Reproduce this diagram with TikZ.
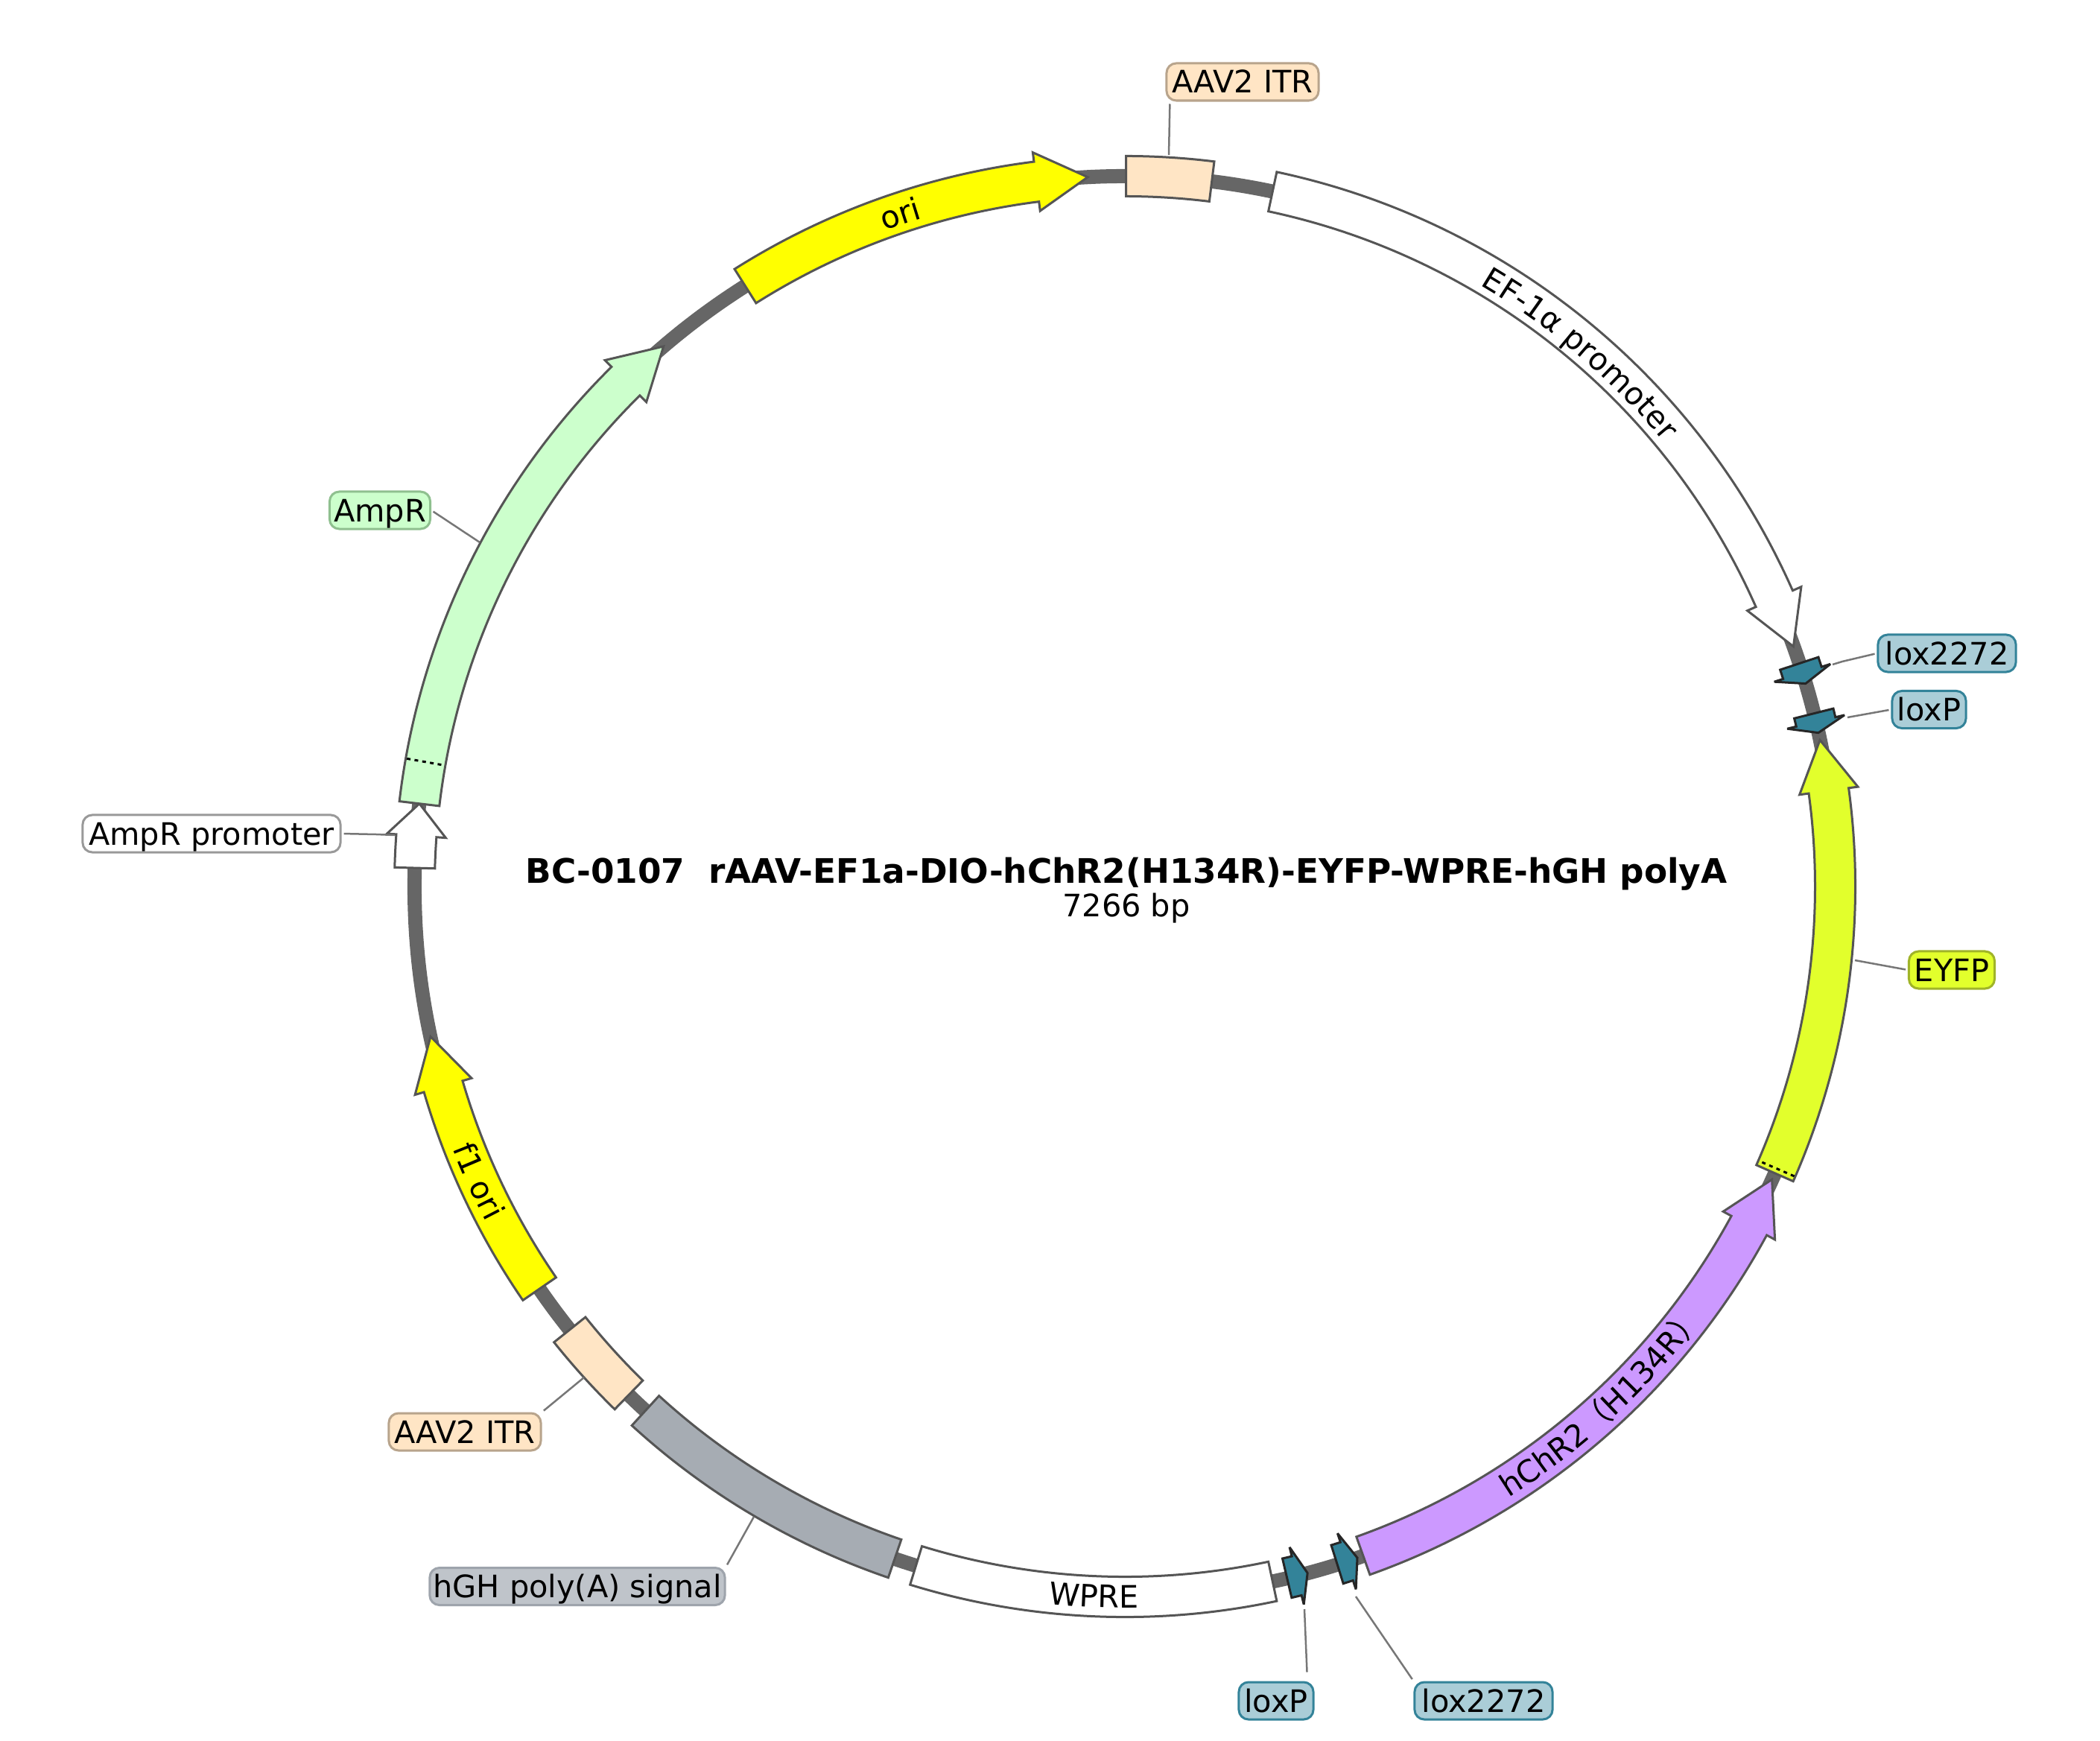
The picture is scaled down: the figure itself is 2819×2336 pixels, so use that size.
\documentclass[tikz,border=0pt]{standalone}
\usepackage{fontspec}
\setmainfont{DejaVu Sans}
\newfontfamily\cjkf{Noto Sans CJK SC}
\usetikzlibrary{decorations.text}
\definecolor{trackc}{HTML}{666666}
\definecolor{edgec}{HTML}{555555}
\definecolor{loxc}{HTML}{338399}
\definecolor{loxl}{HTML}{AACDD7}
\definecolor{itrc}{HTML}{FFE5C5}
\definecolor{itre}{HTML}{B8A48C}
\definecolor{greyc}{HTML}{A6ACB3}
\definecolor{greyl}{HTML}{BFC4CA}
\definecolor{greye}{HTML}{9EA4AC}
\definecolor{ampc}{HTML}{CCFFCC}
\definecolor{ampe}{HTML}{8FC08F}
\definecolor{eyfpc}{HTML}{E2FF2C}
\definecolor{eyfpe}{HTML}{A0B428}
\definecolor{chrc}{HTML}{CC99FF}
\definecolor{orif}{HTML}{FFFF00}
\definecolor{leadc}{HTML}{777777}
\newcommand{\lf}{\fontsize{11.8}{14}\selectfont}
\newcommand{\Ro}{9.80}
\newcommand{\Ri}{9.26}
\newcommand{\Rm}{9.53}
\newcommand{\Rho}{9.925}
\newcommand{\Rhi}{9.135}
\newcommand{\ringbox}[3]{%
  \pgfmathsetmacro\angA{90-#1}\pgfmathsetmacro\angB{90-#2}%
  \draw[#3] (\angA:\Ro cm) arc[start angle=\angA,end angle=\angB,radius=\Ro cm]
    -- (\angB:\Ri cm) arc[start angle=\angB,end angle=\angA,radius=\Ri cm] -- cycle;}
\newcommand{\ringarrow}[4][4.15]{%
  \pgfmathsetmacro\angA{90-#2}\pgfmathsetmacro\angT{90-#3}%
  \pgfmathsetmacro\angB{\angT+sign(#3-#2)*#1}%
  \draw[#4] (\angA:\Ro cm) arc[start angle=\angA,end angle=\angB,radius=\Ro cm]
    -- (\angB:\Rho cm) -- (\angT:\Rm cm) -- (\angB:\Rhi cm)
    -- (\angB:\Ri cm) arc[start angle=\angB,end angle=\angA,radius=\Ri cm] -- cycle;}
\newcommand{\ringtext}[4]{% from, to, radius, text
  \pgfmathsetmacro\angA{90-#1}\pgfmathsetmacro\angB{90-#2}%
  \path[decorate,decoration={text along path,text align=center,text={#4}}]
    (\angA:#3cm) arc[start angle=\angA,end angle=\angB,radius=#3cm];}
\tikzset{
  x=0.01cm,y=0.01cm,
  feat/.style={draw=edgec,line width=0.03cm,line join=miter,miter limit=10,fill=#1},
  loxf/.style={draw=black!85,line width=0.03cm,line join=miter,miter limit=5,fill=loxc},
  lbl/.style 2 args={draw=#2,fill=#1,line width=0.03cm,rounded corners=0.13cm,inner sep=0pt,
    minimum height=0.5cm,text height=0.32cm,text depth=0.02cm,font=\lf},
  leader/.style={draw=leadc,line width=0.025cm,shorten <=0.03cm},
  dotline/.style={draw=black,line width=0.03cm,dash pattern=on 0.05cm off 0.055cm}
}
\begin{document}
\begin{tikzpicture}
\useasboundingbox (-1510,1190) rectangle (1309,-1146);
\fill[white] (-1510,1190) rectangle (1309,-1146);
% backbone
\draw[trackc,line width=0.19cm] (0,0) circle[radius=\Rm cm];
% features
\ringbox{0.1}{7.03}{feat=itrc}
\ringarrow{12.0}{70.25}{feat=white}
\ringarrow[0.9]{71.7}{73.4}{loxf}
\ringarrow[0.9]{75.9}{77.5}{loxf}
\ringarrow{113.8}{78.1}{feat=eyfpc}
\ringarrow{160.4}{114.36}{feat=chrc}
\ringarrow[0.9]{162.6}{160.9}{loxf}
\ringarrow[0.9]{166.8}{165.1}{loxf}
\ringbox{168}{197.1}{feat=white}
\ringbox{198.9}{222.45}{feat=greyc}
\ringbox{224.3}{231.4}{feat=itrc}
\ringarrow{235.5}{257.8}{feat=orif}
\ringarrow[2.6]{271.5}{276.7}{feat=white}
\ringarrow{276.7}{319.5}{feat=ampc}
\ringarrow{327.7}{357}{feat=orif}
% dotted seams
\draw[dotline] (169.9:9.785cm) -- (169.9:9.275cm);
\draw[dotline] (-23.4:9.785cm) -- (-23.4:9.275cm);
% labels on the features
\ringtext{320}{363}{9.37}{|\lf|ori}
\ringtext{11.5}{69.5}{9.37}{|\lf|EF-1α promoter}
\ringtext{165}{109.5}{9.68}{|\lf|hChR2|\cjkf\lf|（|\lf|H134R|\cjkf\lf|）}
\ringtext{197}{168}{9.68}{|\lf|WPRE}
\ringtext{261.5}{229.5}{9.68}{|\lf|f1 ori}
% text and callouts in pixel coordinates of the reference
\begin{scope}[shift={(-1510,1190)},y=-0.01cm]
  \node[font=\fontsize{12.9}{15}\selectfont\bfseries,inner sep=0pt] (title) at (1512,1173) {BC-0107\ \ rAAV-EF1a-DIO-hChR2(H134R)-EYFP-WPRE-hGH polyA};
  \node[font=\lf,inner sep=0pt] (size) at (1512,1219) {7266 bp};

  \node[lbl={itrc}{itre},minimum width=2.04cm] (itrA) at (1668,110) {AAV2 ITR};
  \node[lbl={loxl}{loxc},minimum width=1.85cm] (loxR1) at (2613.5,877) {lox2272};
  \node[lbl={loxl}{loxc},minimum width=0.99cm] (loxR2) at (2589.5,952.5) {loxP};
  \node[lbl={eyfpc}{eyfpe},minimum width=1.15cm] (eyfp) at (2620,1302) {EYFP};
  \node[lbl={loxl}{loxc},minimum width=1.00cm] (loxB2) at (1713,2283) {loxP};
  \node[lbl={loxl}{loxc},minimum width=1.85cm] (loxB1) at (1991.5,2283) {lox2272};
  \node[lbl={greyl}{greye},minimum width=3.96cm] (hgh) at (775,2129.5) {hGH poly(A) signal};
  \node[lbl={itrc}{itre},minimum width=2.04cm] (itrB) at (624,1922) {AAV2 ITR};
  \node[lbl={white}{black!40},minimum width=3.46cm] (amppro) at (284,1119) {AmpR promoter};
  \node[lbl={ampc}{ampe},minimum width=1.35cm] (amp) at (510,685) {AmpR};

  \coordinate (itrAend) at (1569,208);
  \coordinate (loxR1bend) at (2473,888);
  \coordinate (loxR1end) at (2460,892);
  \coordinate (loxR2end) at (2480,963);
  \coordinate (eyfpend) at (2490,1289);
  \coordinate (loxB2end) at (1751,2160);
  \coordinate (loxB1end) at (1820,2143);
  \coordinate (hghend) at (1012,2036);
  \coordinate (itrBend) at (784,1849);
  \coordinate (ampprobend) at (505,1120);
  \coordinate (ampproend) at (530,1121);
  \coordinate (ampend) at (644,728);

  \draw[leader] ([xshift=0.06cm]itrA.south west) -- (itrAend);
  \draw[leader] (loxR1.west) -- (loxR1bend) -- (loxR1end);
  \draw[leader] (loxR2.west) -- (loxR2end);
  \draw[leader] (eyfp.west) -- (eyfpend);
  \draw[leader,shorten <=0.12cm] ([xshift=0.42cm]loxB2.north) -- (loxB2end);
  \draw[leader] (loxB1.north west) -- (loxB1end);
  \draw[leader] (hgh.north east) -- (hghend);
  \draw[leader] (itrB.north east) -- (itrBend);
  \draw[leader] (amppro.east) -- (ampprobend) -- (ampproend);
  \draw[leader] (amp.east) -- (ampend);
\end{scope}
\end{tikzpicture}
\end{document}
